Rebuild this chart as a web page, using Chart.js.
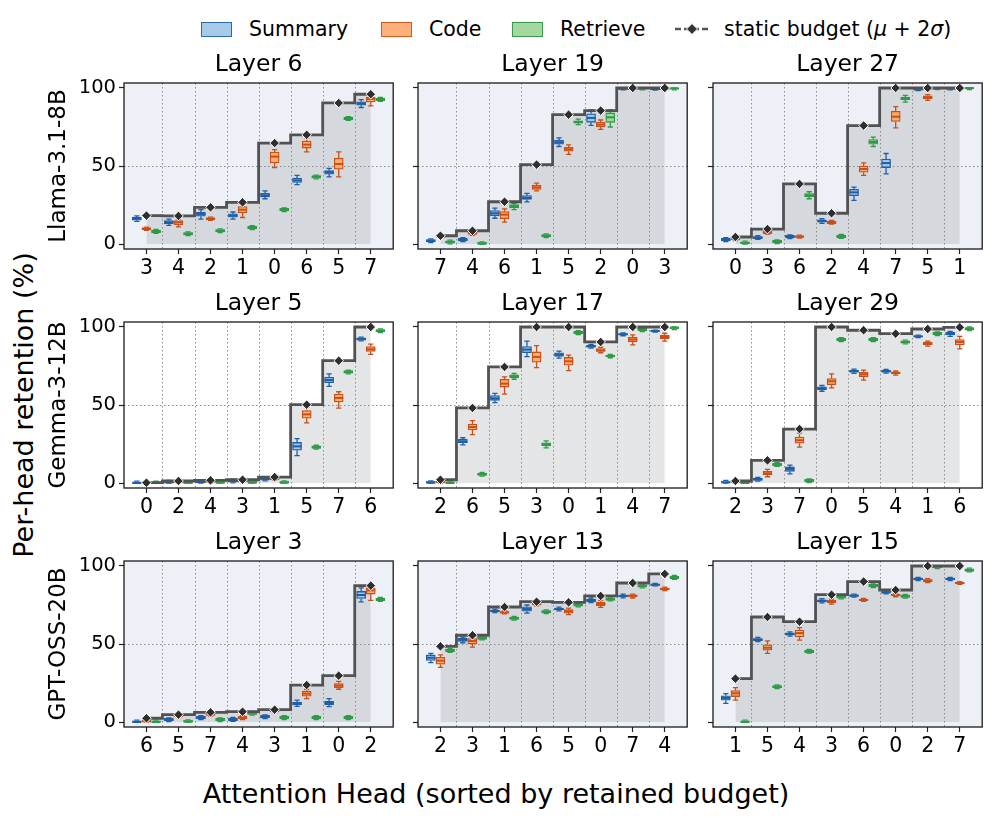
<!DOCTYPE html>
<html>
<head>
<meta charset="utf-8">
<script src="https://cdn.jsdelivr.net/npm/chart.js"></script>
<style>
  body { margin: 0; width: 996px; height: 818px; position: relative; overflow: hidden; background: #fff;
         font-family: "DejaVu Sans", sans-serif; color: #000; }
  canvas { position: absolute; }
  .txt { position: absolute; white-space: nowrap; }
  .patch { position: absolute; top: 22px; width: 31px; height: 15px; box-sizing: border-box; border: 1.5px solid; }
  .leg { position: absolute; top: 16px; font-size: 20.5px; line-height: 26px; white-space: nowrap; }
</style>
</head>
<body>

<div class="patch" style="left:201px;background:#a6cbe8;border-color:#2a6aad"></div>
<div class="leg" style="left:249px">Summary</div>
<div class="patch" style="left:381px;background:#fdb07a;border-color:#cf5c22"></div>
<div class="leg" style="left:429px">Code</div>
<div class="patch" style="left:512px;background:#a3d9a0;border-color:#3a9a4c"></div>
<div class="leg" style="left:560px">Retrieve</div>
<svg style="position:absolute;left:674px;top:20px" width="36" height="18">
  <line x1="1" y1="9" x2="35" y2="9" stroke="#555" stroke-width="2.5" stroke-dasharray="6,3"/>
  <polygon points="18,3.5 23.5,9 18,14.5 12.5,9" fill="#333" stroke="#fff" stroke-width="1"/>
</svg>
<div class="leg" style="left:724px">static budget (<i>μ</i> + 2<i>σ</i>)</div>

<div class="txt" style="left:23px;top:405px;font-size:27px;transform:translate(-50%,-50%) rotate(-90deg)">Per-head retention (%)</div>
<div class="txt" style="left:496px;top:793px;font-size:27px;transform:translate(-50%,-50%)">Attention Head (sorted by retained budget)</div>

<script>
// box entries: [whisker low, q1, median, q3, whisker high]

// Llama-3.1-8B, layer 6
const llama6Heads = [3, 4, 2, 1, 0, 6, 5, 7];
const llama6Budget = [18.2, 18.0, 23.5, 26.7, 64.7, 70.0, 90.4, 96.0];
const llama6Summary = [[14.5,15.3,16.2,17.2,18],[12,13,13.9,15,16],[16,17.8,19.2,20.5,22],[16,17.2,18.2,19.3,20.5],
  [29,30.2,31.2,32.5,34],[38,39.5,40.8,42.3,44],[43,44.8,46,47,48.5],[87.5,89,90,91.2,92.5]];
const llama6Code = [[8.8,9.2,9.8,10.4,10.8],[11,12.3,13.9,15,16],[15.2,15.6,16.2,16.8,17.2],[17,20,22,24,27],
  [49,52,56,59,60.5],[59,61.5,63.7,66,68],[43,48,51.3,55,59],[88.5,91,93,94.2,95.5]];
const llama6Retrieve = [[6.9,7.3,8.1,8.9,9.3],[5.4,5.8,6.6,7.4,7.8],[7.3,7.7,8.5,9.3,9.7],[9.3,9.7,10.5,11.3,11.7],
  [20.8,21.2,22,22.8,23.2],[41.8,42.2,43,43.8,44.2],[79.3,79.7,80.5,81.3,81.7],[91.5,91.9,92.7,93.5,93.9]];

// Llama-3.1-8B, layer 19
const llama19Heads = [7, 4, 6, 1, 5, 2, 0, 3];
const llama19Budget = [5.3, 8.5, 27.1, 50.9, 82.9, 85.5, 100, 100];
const llama19Summary = [[0.9,1.3,2.1,2.9,3.3],[1.6,2,2.8,3.6,4],[16.5,18.2,19.7,21.5,23],[27,28.5,29.5,31,32.5],
  [62.5,64,65.2,66.5,68],[76,78,80.8,83.5,86],[98.8,99.1,99.6,100,100],[98.7,99,99.5,100,100]];
const llama19Code = [[3.8,4.2,5,5.8,6.2],[5.5,6.2,7,7.8,8.5],[14,16.2,18.8,20.8,22.5],[34,35,36.3,37.8,39],
  [57.5,59.5,60.7,62,63.5],[73.5,75,76.5,78,79.5],[98.6,99,99.5,100,100],[98.8,99.1,99.6,100,100]];
const llama19Retrieve = [[0.1,0.5,1.3,2.1,2.5],[0,0,0.2,1,1.4],[22,23.2,24.1,25.2,26],[4.1,4.5,5.3,6.1,6.5],
  [76.5,77.5,78.2,79,80],[75,78,81.2,84,86],[98.8,99.2,100,100,100],[98.8,99.2,99.8,100,100]];

// Llama-3.1-8B, layer 27
const llama27Heads = [0, 3, 6, 2, 4, 7, 5, 1];
const llama27Budget = [4.5, 9.6, 38.5, 19.7, 75.9, 100, 100, 100];
const llama27Summary = [[1.6,2,2.8,3.6,4],[3,3.5,4.1,4.8,5.3],[3.5,3.9,4.7,5.5,5.9],[13.2,14,14.7,15.5,16.2],
  [28,31,33.1,35,36.5],[45,49,51.9,54.5,58],[98.4,98.8,99.1,99.5,99.8],[98.8,99.2,99.8,100,100]];
const llama27Code = [[2.2,2.6,3.4,4.2,4.6],[6.3,6.7,7.5,8.3,8.7],[3.8,4.2,4.7,5.3,5.7],[12.7,13.1,13.9,14.7,15.1],
  [44,46,48.1,50,52],[74.5,78.5,81.6,85,88],[92,93,94,95,95.8],[99,99.4,99.9,100,100]];
const llama27Retrieve = [[0,0,0.6,1.4,1.8],[0.3,0.7,1.5,2.3,2.7],[29,30.2,31.2,32.3,33.5],[3.7,4.1,4.9,5.7,6.1],
  [62.5,64,65.4,67,68.5],[91,92.3,93.2,94.2,95.3],[99,99.4,99.9,100,100],[99,99.4,100,100,100]];

// Gemma-3-12B, layer 5
const gemma5Heads = [0, 2, 4, 3, 1, 5, 7, 6];
const gemma5Budget = [0.2, 1.3, 1.7, 2.1, 3.8, 50.2, 78.4, 100];
const gemma5Summary = [[0,0,0,0.8,1.2],[0,0,0.4,1.2,1.6],[0,0.1,0.9,1.7,2.1],[0.1,0.5,1.3,2.1,2.5],
  [1.4,1.8,2.6,3.4,3.8],[17.5,21,23.5,26,28.5],[62,64.3,66,67.8,70],[91.1,91.5,92.3,93.1,93.5]];
const gemma5Code = [[0,0,0.1,0.9,1.3],[0,0,0.6,1.4,1.8],[0,0.3,1.1,1.9,2.3],[0.3,0.7,1.5,2.3,2.7],
  [1.8,2.2,3,3.8,4.2],[38.5,41.5,44,46.5,48.5],[48,52,54.5,57,58.5],[82.5,84.3,85.7,87.5,89]];
const gemma5Retrieve = [[0,0,0,0.8,1.2],[0,0,0.1,0.9,1.3],[0,0,0.2,1,1.4],[0,0,0.2,1,1.4],
  [0,0,0.2,1,1.4],[21.8,22.2,23,23.8,24.2],[70,70.4,71.2,72,72.4],[96.4,96.8,97.6,98.4,98.8]];

// Gemma-3-12B, layer 17
const gemma17Heads = [2, 6, 5, 3, 0, 1, 4, 7];
const gemma17Budget = [2.1, 48.1, 74.4, 100, 100, 90.4, 100, 100];
const gemma17Summary = [[0,0,0.2,1,1.4],[24.5,25.8,26.7,28,29],[51.5,53,54.3,56,57.5],[81,83.5,85.5,87.5,91],
  [80,81.2,82.3,83.5,84.5],[86.4,87,87.6,88.2,88.8],[94.4,94.9,95.3,95.7,96.2],[96.8,97.1,97.4,97.7,98]];
const gemma17Code = [[0,0,0.6,1.4,1.8],[31,34,35.9,37.8,40],[57,61.5,63.7,66.5,68],[74,77.5,80.8,84,88],
  [72,75.5,78,80.5,82],[83.5,84.3,85,86.2,87],[88.5,90.5,92,93.5,95],[91,92.5,93.6,94.8,96]];
const gemma17Retrieve = [[0,0,0,0.8,1.2],[4.4,4.8,5.6,6.4,6.8],[66.5,67.5,68.4,69.4,70.2],[22.5,23.8,24.8,25.8,27],
  [95.2,95.6,96.4,97.2,97.6],[80.3,80.8,81.4,82,82.5],[97.1,97.5,98.3,99.1,99.5],[98.4,98.8,99.6,100,100]];

// Gemma-3-12B, layer 29
const gemma29Heads = [2, 3, 7, 0, 5, 4, 1, 6];
const gemma29Budget = [1.3, 14.5, 34.6, 100, 97.9, 95.7, 98.7, 99.8];
const gemma29Summary = [[0,0,0.4,1.2,1.6],[1.2,1.6,2.4,3.2,3.6],[5.8,7.5,9,10.3,11.5],[58.8,59.8,60.7,61.7,62.5],
  [70.3,71,71.6,72.3,73],[70.4,71,71.6,72.2,72.8],[93.2,93.6,94,94.4,94.8],[94,94.9,95.7,96.5,97.2]];
const gemma29Code = [[0,0.2,1,1.8,2.2],[4,5.2,6.2,7.5,8.8],[23,25.5,27.4,29.5,32],[61,63,65.2,67,70],
  [66,68.2,69.7,71,72.3],[69.2,69.9,70.5,71.2,71.8],[87.7,88.5,89.3,90.3,91],[86,88.5,90.4,92,94]];
const gemma29Retrieve = [[0,0,0,0.8,1.2],[10.6,11,11.8,12.6,13],[0.3,0.7,1.5,2.3,2.7],[90.7,91.1,91.9,92.7,93.1],
  [90.7,91.1,91.9,92.7,93.1],[89.2,89.6,90.4,91.2,91.6],[94.5,94.9,95.7,96.5,96.9],[97.7,98.1,98.9,99.7,100]];

// GPT-OSS-20B, layer 3
const gpt3Heads = [6, 5, 7, 4, 3, 1, 0, 2];
const gpt3Budget = [2.4, 4.7, 6.2, 6.6, 7.9, 23.7, 29.7, 87.4];
const gpt3Summary = [[0,0,0,0.8,1.2],[0.3,0.7,1.5,2.3,2.7],[1.6,2,2.8,3.6,4],[0.5,0.9,1.7,2.5,2.9],
  [2.2,2.6,3.4,4.2,4.6],[10,11,11.8,12.8,14],[9.8,11,12.2,13.3,15],[77,79.2,81.4,83.7,86]];
const gpt3Code = [[0,0,0.5,1.3,1.7],[2.8,3.2,4,4.8,5.2],[3.8,4.2,5,5.8,6.2],[1.6,2,2.8,3.6,4],
  [6.1,6.5,7.3,8.1,8.5],[15,16.5,18.2,19.8,21],[21,22,23.3,24.7,26],[78,82,84.4,86,87.5]];
const gpt3Retrieve = [[0,0,0,0.8,1.2],[0,0,0.2,1,1.4],[0.3,0.7,1.5,2.3,2.7],[4.4,4.8,5.6,6.4,6.8],
  [1.6,2,2.8,3.6,4],[1.6,2,2.8,3.6,4],[1.6,2,2.8,3.6,4],[77.4,77.8,78.6,79.4,79.8]];

// GPT-OSS-20B, layer 13
const gpt13Heads = [2, 3, 1, 6, 5, 0, 7, 4];
const gpt13Budget = [48.5, 55.6, 73.7, 77.1, 76.7, 80.8, 89.1, 94.9];
const gpt13Summary = [[38,39.5,41.2,43,44],[50.8,51.7,52.6,53.6,54.4],[70.2,70.7,71.2,71.8,72.3],[69.8,71,72.4,73.8,75],
  [71.2,71.8,72.4,73,73.6],[76.5,77.2,78,78.8,79.5],[79.6,80.2,80.8,81.4,82],[87.2,87.6,88,88.4,88.8]];
const gpt13Code = [[35,37,39.3,41.5,43],[48,50,51.9,53.5,55],[69.3,69.8,70.3,70.8,71.3],[74.5,75,75.6,76.2,76.8],
  [68.8,69.8,70.9,72,73],[73.5,74.5,75.6,76.8,78],[79.5,80.1,80.8,81.5,82],[84.2,84.7,85.3,85.9,86.4]];
const gpt13Retrieve = [[44.7,45.1,45.9,46.7,47.1],[52.6,53,53.8,54.6,55],[65.3,65.7,66.5,67.3,67.7],[69.5,69.9,70.7,71.5,71.9],
  [73.8,74.2,75,75.8,76.2],[77.6,78,78.8,79.6,80],[86,86.4,87.2,88,88.4],[91.5,91.9,92.7,93.5,93.9]];

// GPT-OSS-20B, layer 15
const gpt15Heads = [1, 5, 4, 3, 6, 0, 2, 7];
const gpt15Budget = [27.8, 67.3, 64.3, 81.6, 90, 84.6, 100, 100];
const gpt15Summary = [[12,14,15.4,16.8,18.2],[51.5,52.2,52.8,53.5,54.2],[55,55.7,56.4,57.1,57.8],[76.3,77,77.6,78.3,79],
  [80,80.5,81,81.5,82],[82.1,82.6,83.1,83.6,84.1],[90.7,91.2,91.7,92.2,92.7],[90.7,91.2,91.7,92.2,92.7]];
const gpt15Code = [[14,16.3,18.4,20.2,22],[44,46,47.6,49.5,52],[52.5,54.5,57,59,60.5],[75.5,76.3,77.1,78,78.8],
  [77.3,77.7,78.2,78.7,79.2],[80.3,80.8,81.4,82,82.5],[89.3,90,90.6,91.3,91.9],[88.2,88.7,89.1,89.6,90]];
const gpt15Retrieve = [[0,0,0,0.8,1.2],[21.4,21.8,22.6,23.4,23.8],[44.1,44.5,45.3,46.1,46.5],[78.9,79.3,80.1,80.9,81.3],
  [86.2,86.6,87.4,88.2,88.6],[79.4,79.8,80.6,81.4,81.8],[98.4,98.8,99.6,100,100],[96.2,96.6,97.4,98.2,98.6]];

const models = ['Llama-3.1-8B', 'Gemma-3-12B', 'GPT-OSS-20B'];
const yTicks = [0, 50, 100];

const panels = [
  { layer: 6,  heads: llama6Heads,  budget: llama6Budget,  summary: llama6Summary,  code: llama6Code,  retrieve: llama6Retrieve },
  { layer: 19, heads: llama19Heads, budget: llama19Budget, summary: llama19Summary, code: llama19Code, retrieve: llama19Retrieve },
  { layer: 27, heads: llama27Heads, budget: llama27Budget, summary: llama27Summary, code: llama27Code, retrieve: llama27Retrieve },
  { layer: 5,  heads: gemma5Heads,  budget: gemma5Budget,  summary: gemma5Summary,  code: gemma5Code,  retrieve: gemma5Retrieve },
  { layer: 17, heads: gemma17Heads, budget: gemma17Budget, summary: gemma17Summary, code: gemma17Code, retrieve: gemma17Retrieve },
  { layer: 29, heads: gemma29Heads, budget: gemma29Budget, summary: gemma29Summary, code: gemma29Code, retrieve: gemma29Retrieve },
  { layer: 3,  heads: gpt3Heads,    budget: gpt3Budget,    summary: gpt3Summary,    code: gpt3Code,    retrieve: gpt3Retrieve },
  { layer: 13, heads: gpt13Heads,   budget: gpt13Budget,   summary: gpt13Summary,   code: gpt13Code,   retrieve: gpt13Retrieve },
  { layer: 15, heads: gpt15Heads,   budget: gpt15Budget,   summary: gpt15Summary,   code: gpt15Code,   retrieve: gpt15Retrieve }
];

const series = [
  { key: 'summary',  label: 'Summary',  offset: -0.3, fill: '#9fc5e8', edge: '#1f5fa6' },
  { key: 'code',     label: 'Code',     offset: 0,    fill: '#fdae6b', edge: '#c8501b' },
  { key: 'retrieve', label: 'Retrieve', offset: 0.3,  fill: '#a1d99b', edge: '#2f9a47' }
];

Chart.defaults.font.family = '"DejaVu Sans", sans-serif';
Chart.defaults.color = '#000';

// background, dotted separators, whiskers/medians and the frame
const decor = {
  id: 'decor',
  beforeDraw(chart, args, opts) {
    const { ctx, chartArea: a } = chart;
    ctx.save();
    ctx.fillStyle = opts.bg;
    ctx.fillRect(a.left, a.top, a.width, a.height);
    ctx.restore();
  },
  beforeDatasetsDraw(chart) {
    const { ctx, chartArea: a, scales: { x, y } } = chart;
    ctx.save();
    ctx.strokeStyle = '#8c8c8c';
    ctx.lineWidth = 1;
    ctx.setLineDash([1.5, 2.5]);
    for (let i = 0; i < 7; i++) {
      const px = Math.round(x.getPixelForValue(i + 0.5)) + 0.5;
      ctx.beginPath(); ctx.moveTo(px, a.top); ctx.lineTo(px, a.bottom); ctx.stroke();
    }
    const py = Math.round(y.getPixelForValue(50)) + 0.5;
    ctx.beginPath(); ctx.moveTo(a.left, py); ctx.lineTo(a.right, py); ctx.stroke();
    ctx.restore();
  },
  afterDatasetDraw(chart, args) {
    const ds = chart.data.datasets[args.index];
    if (!ds.stats) return;
    const { ctx, scales: { x, y } } = chart;
    ctx.save();
    ctx.strokeStyle = ds.borderColor;
    ds.stats.forEach((b, i) => {
      const px = x.getPixelForValue(i + ds.offset);
      ctx.lineWidth = 1.3;
      ctx.beginPath();
      ctx.moveTo(px, y.getPixelForValue(b[3])); ctx.lineTo(px, y.getPixelForValue(b[4]));
      ctx.moveTo(px, y.getPixelForValue(b[1])); ctx.lineTo(px, y.getPixelForValue(b[0]));
      ctx.moveTo(px - 2.6, y.getPixelForValue(b[4])); ctx.lineTo(px + 2.6, y.getPixelForValue(b[4]));
      ctx.moveTo(px - 2.6, y.getPixelForValue(b[0])); ctx.lineTo(px + 2.6, y.getPixelForValue(b[0]));
      ctx.stroke();
      ctx.lineWidth = 2;
      ctx.beginPath();
      ctx.moveTo(px - 4.5, y.getPixelForValue(b[2])); ctx.lineTo(px + 4.5, y.getPixelForValue(b[2]));
      ctx.stroke();
    });
    ctx.restore();
  },
  afterDraw(chart) {
    const { ctx, chartArea: a } = chart;
    ctx.save();
    ctx.strokeStyle = '#1a1a1a';
    ctx.lineWidth = 1.3;
    ctx.strokeRect(a.left, a.top, a.width, a.height);
    ctx.restore();
  }
};

const plotLeft = [124, 418, 713];
const plotTop = [83, 322, 561];

panels.forEach((p, k) => {
  const r = Math.floor(k / 3), c = k % 3;
  const yw = c === 0 ? 84 : 8;
  const cv = document.createElement('canvas');
  cv.width = yw + 272 + 3;
  cv.height = 234;
  cv.style.left = (plotLeft[c] - yw) + 'px';
  cv.style.top = (plotTop[r] - 32) + 'px';
  document.body.appendChild(cv);

  const datasets = [{
    type: 'line',
    label: 'static budget',
    data: p.budget.map((v, i) => ({ x: i, y: v })),
    stepped: 'middle',
    fill: 'origin',
    backgroundColor: 'rgba(120,124,132,0.2)',
    borderColor: '#525252',
    borderWidth: 2.8,
    pointStyle: 'rectRot',
    pointRadius: 4.8,
    pointBackgroundColor: '#2e2e2e',
    pointBorderColor: '#ffffff',
    pointBorderWidth: 1,
    order: 0
  }];
  series.forEach((s, j) => {
    const stats = p[s.key];
    datasets.push({
      type: 'bar',
      label: s.label,
      stats: stats,
      offset: s.offset,
      data: stats.map((b, i) => ({ x: i + s.offset, y: [b[1], b[3]] })),
      backgroundColor: s.fill,
      borderColor: s.edge,
      borderWidth: 1.3,
      borderSkipped: false,
      grouped: false,
      barThickness: 9,
      order: j + 1
    });
  });

  new Chart(cv, {
    type: 'line',
    data: { datasets },
    options: {
      responsive: false,
      animation: false,
      events: [],
      layout: { padding: { right: 3 } },
      plugins: {
        legend: { display: false },
        tooltip: { enabled: false },
        filler: { drawTime: 'beforeDatasetsDraw' },
        title: {
          display: true, text: 'Layer ' + p.layer, fullSize: false,
          font: { size: 23.5, weight: 'normal' }, color: '#000',
          padding: { top: 0, bottom: 3.8 }
        },
        decor: { bg: r === 1 ? '#ffffff' : '#edf0f6' }
      },
      scales: {
        x: {
          type: 'linear', min: -0.7, max: 7.7, offset: false,
          afterBuildTicks: s => { s.ticks = p.heads.map((h, i) => ({ value: i })); },
          afterFit: s => { s.height = 36; },
          ticks: { callback: v => String(p.heads[v]), font: { size: 20.5 }, color: '#000',
                   padding: 2, maxRotation: 0, autoSkip: false },
          grid: { drawOnChartArea: false, offset: false, tickLength: 5, tickColor: '#222', tickWidth: 1.2 },
          border: { display: false }
        },
        y: {
          type: 'linear', min: -3.2, max: 103.2,
          afterBuildTicks: s => { s.ticks = yTicks.map(v => ({ value: v })); },
          afterFit: s => { s.width = yw; },
          ticks: { display: c === 0, font: { size: 19.5 }, color: '#000', padding: 3 },
          grid: { drawOnChartArea: false, tickLength: 5, tickColor: '#222', tickWidth: 1.2 },
          border: { display: false },
          title: { display: c === 0, text: models[r], font: { size: 23 }, color: '#000',
                   padding: { top: 5, bottom: 0 } }
        }
      }
    },
    plugins: [decor]
  });
});
</script>
</body>
</html>
